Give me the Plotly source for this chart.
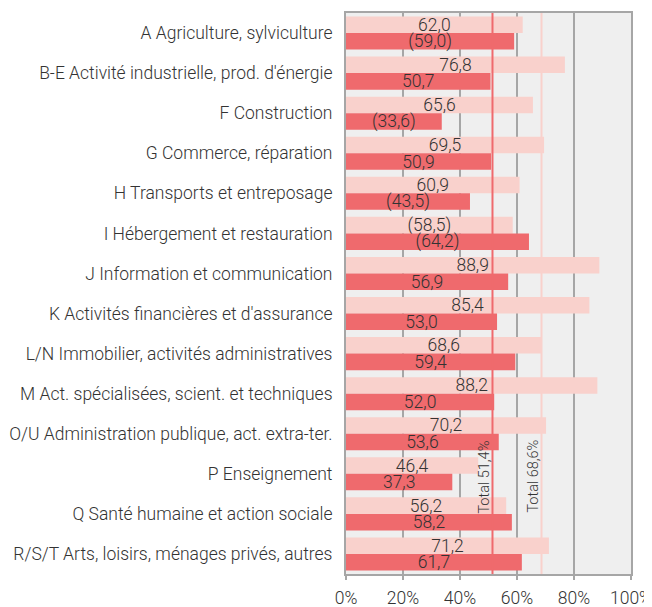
import plotly.graph_objects as go

categories = [
    "A Agriculture, sylviculture",
    "B-E Activité industrielle, prod. d'énergie",
    "F Construction",
    "G Commerce, réparation",
    "H Transports et entreposage",
    "I Hébergement et restauration",
    "J Information et communication",
    "K Activités financières et d'assurance",
    "L/N Immobilier, activités administratives",
    "M Act. spécialisées, scient. et techniques",
    "O/U Administration publique, act. extra-ter.",
    "P Enseignement",
    "Q Santé humaine et action sociale",
    "R/S/T Arts, loisirs, ménages privés, autres",
]
light_values = [62.0, 76.8, 65.6, 69.5, 60.9, 58.5, 88.9, 85.4, 68.6, 88.2, 70.2, 46.4, 56.2, 71.2]
light_uncertain = [False, False, False, False, False, True, False, False, False, False, False, False, False, False]
dark_values = [59.0, 50.7, 33.6, 50.9, 43.5, 64.2, 56.9, 53.0, 59.4, 52.0, 53.6, 37.3, 58.2, 61.7]
dark_uncertain = [True, False, True, False, True, True, False, False, False, False, False, False, False, False]
total_light = 68.6
total_dark = 51.4
x_ticks = [0, 20, 40, 60, 80, 100]

LIGHT = "#f9d1cc"
DARK = "#ef6a6d"
FONT = "Roboto"
TXT = "#333333"
FS = 17.5


def fmt(v, unc):
    s = f"{v:.1f}".replace(".", ",")
    return f"({s})" if unc else s


fig = go.Figure()
for vals, unc, col in [(light_values, light_uncertain, LIGHT), (dark_values, dark_uncertain, DARK)]:
    fig.add_trace(go.Bar(
        y=categories, x=vals, orientation="h",
        marker=dict(color=col, line=dict(width=0)),
        text=[fmt(v, u) for v, u in zip(vals, unc)],
        textposition="inside", insidetextanchor="middle",
        textfont=dict(family=FONT, size=FS, color=TXT, weight=300),
        constraintext="none", cliponaxis=False,
        hoverinfo="skip",
    ))

for val, col in [(total_dark, DARK), (total_light, LIGHT)]:
    fig.add_shape(type="line", xref="x", yref="paper", x0=val, x1=val, y0=0, y1=1,
                  line=dict(color=col, width=2), layer="above")
    fig.add_annotation(x=val, xref="x", y=0.105, yref="paper", xanchor="right", yanchor="bottom",
                       xshift=3, text=f"Total {str(val).replace('.', ',')}%", textangle=-90,
                       showarrow=False, font=dict(family=FONT, size=14.5, color=TXT, weight=300))

# the page body has an 8px margin; size the figure so the plot lands where the reference has it
fig.update_layout(
    width=644, height=599,
    margin=dict(l=338, r=21, t=5, b=33, autoexpand=False),
    barmode="group", bargap=0.175, bargroupgap=0,
    paper_bgcolor="white", plot_bgcolor="#efefef",
    showlegend=False,
    font=dict(family=FONT, color=TXT, weight=300),
    uniformtext=dict(mode=False),
)
fig.update_xaxes(
    range=[0, 100], tickvals=x_ticks, ticktext=[f"{t}%" for t in x_ticks],
    showgrid=True, gridcolor="#a6a6a6", gridwidth=1.5,
    showline=True, linecolor="#a6a6a6", linewidth=2, mirror=True,
    ticks="outside", ticklen=4, tickcolor="#a6a6a6", tickwidth=1.5,
    tickfont=dict(family=FONT, size=FS, color=TXT, weight=300), ticklabelstandoff=3,
    ticklabeloverflow="allow",
    zeroline=False, fixedrange=True, automargin=False,
)
fig.update_yaxes(
    autorange="reversed", showgrid=False,
    showline=True, linecolor="#a6a6a6", linewidth=2, mirror=True,
    ticks="", tickfont=dict(family=FONT, size=FS, color=TXT, weight=300), ticklabelstandoff=8,
    fixedrange=True, automargin=False,
)
fig.write_html("out.html")
